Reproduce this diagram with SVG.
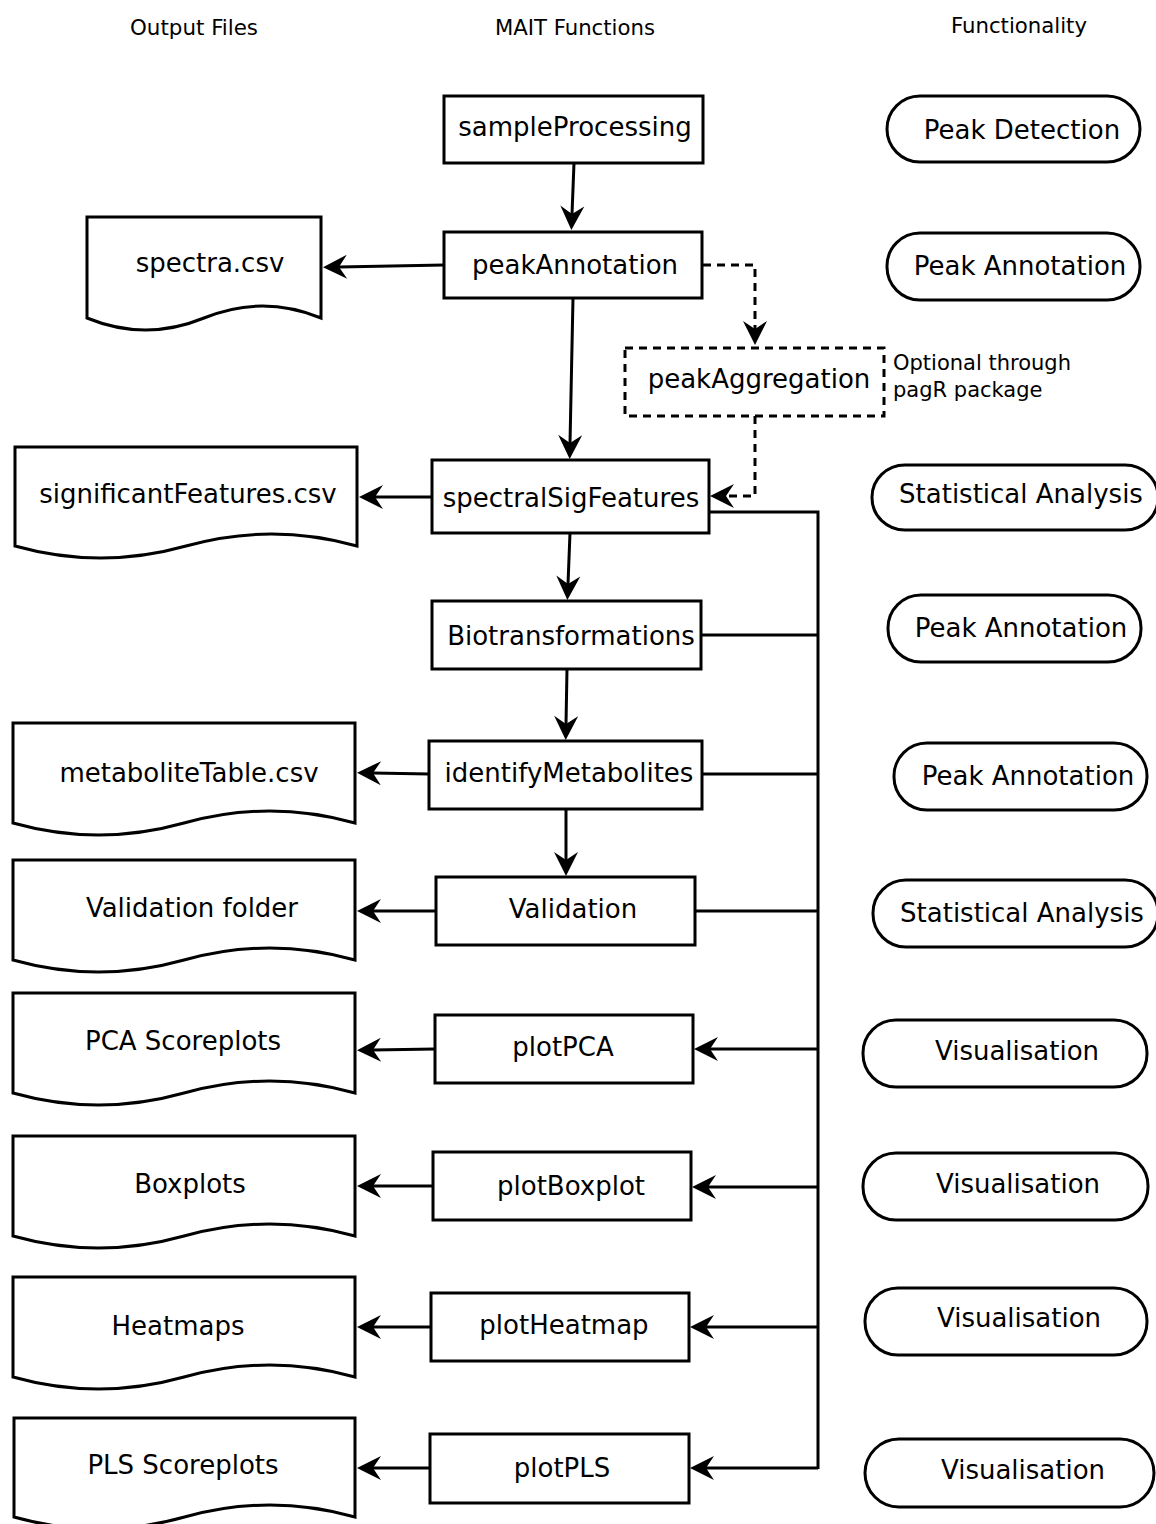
<svg xmlns="http://www.w3.org/2000/svg" width="1156" height="1524" viewBox="0 0 1156 1524">
<style>
.box{fill:#fff;stroke:#000;stroke-width:3}
.dash{fill:#fff;stroke:#000;stroke-width:3;stroke-dasharray:8 6}
.doc{fill:#fff;stroke:#000;stroke-width:3;stroke-linejoin:miter}
.pill{fill:#fff;stroke:#000;stroke-width:3}
.lbl{font-family:"DejaVu Sans","Liberation Sans",sans-serif;font-size:26px;fill:#000;text-anchor:middle}
.note{font-family:"DejaVu Sans","Liberation Sans",sans-serif;font-size:21px;fill:#000}
.hdr{font-family:"DejaVu Sans Condensed","DejaVu Sans","Liberation Sans",sans-serif;font-stretch:condensed;font-size:22px;fill:#000}
.ln{fill:none;stroke:#000;stroke-width:3}
.ln.dsh{stroke-dasharray:8 6}
.arr{marker-end:url(#ah)}
</style>
<defs>
<marker id="ah" markerUnits="userSpaceOnUse" markerWidth="40" markerHeight="40" refX="0" refY="0" orient="auto" overflow="visible">
<path d="M16,0 L-8,-12 L0,0 L-8,12 Z" fill="#000"/>
</marker>
</defs>
<rect width="1156" height="1524" fill="#fff"/>

<g id="headers">
<text class="hdr" x="130" y="35" textLength="128" lengthAdjust="spacingAndGlyphs">Output Files</text>
<text class="hdr" x="495" y="35" textLength="160" lengthAdjust="spacingAndGlyphs">MAIT Functions</text>
<text class="hdr" x="951" y="33" textLength="136" lengthAdjust="spacingAndGlyphs">Functionality</text>
</g>

<g id="connectors">
<path class="ln arr" d="M574,163 L572,214"/>
<path class="ln arr" d="M444,265 L339,267"/>
<path class="ln arr" d="M573,298 L570,443"/>
<path class="ln dsh arr" d="M703,265 H755 V329"/>
<path class="ln dsh arr" d="M755,416 V496 H726"/>
<path class="ln arr" d="M432,497 L375,497"/>
<path class="ln arr" d="M570,533 L568,584"/>
<path class="ln arr" d="M567,669 L566,724"/>
<path class="ln arr" d="M429,774 L373,773"/>
<path class="ln arr" d="M566,809 V860"/>
<path class="ln arr" d="M436,911 H373"/>
<path class="ln arr" d="M435,1049 L373,1050"/>
<path class="ln arr" d="M433,1186 H373"/>
<path class="ln arr" d="M431,1327 H373"/>
<path class="ln arr" d="M430,1468 H373"/>
<path class="ln" d="M709,512 H818 V1469"/>
<path class="ln" d="M701,635 H818"/>
<path class="ln" d="M702,774 H818"/>
<path class="ln" d="M695,911 H818"/>
<path class="ln arr" d="M818,1049 H710"/>
<path class="ln arr" d="M818,1187 H708"/>
<path class="ln arr" d="M818,1327 H706"/>
<path class="ln arr" d="M818,1468 H706"/>
</g>

<g id="n-sampleProcessing"><rect class="box" x="444" y="96" width="259" height="67"/><text class="lbl" x="575" y="136">sampleProcessing</text></g>
<g id="n-peakAnnotation"><rect class="box" x="444" y="232" width="258" height="66"/><text class="lbl" x="575" y="274">peakAnnotation</text></g>
<g id="n-peakAggregation"><rect class="dash" x="625" y="348" width="259" height="68"/><text class="lbl" x="759" y="388">peakAggregation</text>
<text class="note" x="893" y="370">Optional through</text><text class="note" x="893" y="397">pagR package</text></g>
<g id="n-spectralSigFeatures"><rect class="box" x="432" y="460" width="277" height="73"/><text class="lbl" x="571" y="507">spectralSigFeatures</text></g>
<g id="n-Biotransformations"><rect class="box" x="432" y="601" width="269" height="68"/><text class="lbl" x="571" y="645">Biotransformations</text></g>
<g id="n-identifyMetabolites"><rect class="box" x="429" y="741" width="273" height="68"/><text class="lbl" x="569" y="782">identifyMetabolites</text></g>
<g id="n-Validation"><rect class="box" x="436" y="877" width="259" height="68"/><text class="lbl" x="573" y="918">Validation</text></g>
<g id="n-plotPCA"><rect class="box" x="435" y="1015" width="258" height="68"/><text class="lbl" x="563" y="1056">plotPCA</text></g>
<g id="n-plotBoxplot"><rect class="box" x="433" y="1152" width="258" height="68"/><text class="lbl" x="571" y="1195">plotBoxplot</text></g>
<g id="n-plotHeatmap"><rect class="box" x="431" y="1293" width="258" height="68"/><text class="lbl" x="564" y="1334">plotHeatmap</text></g>
<g id="n-plotPLS"><rect class="box" x="430" y="1434" width="259" height="69"/><text class="lbl" x="562" y="1477">plotPLS</text></g>

<g id="d-spectra"><path class="doc" d="M87,217 H321 V318 Q262.5,294 204,318 Q145.5,342 87,318 Z"/><text class="lbl" x="210" y="272">spectra.csv</text></g>
<g id="d-significantFeatures"><path class="doc" d="M15,447 H357 V546 Q271.5,522 186,546 Q100.5,570 15,546 Z"/><text class="lbl" x="188" y="503">significantFeatures.csv</text></g>
<g id="d-metaboliteTable"><path class="doc" d="M13,723 H355 V823 Q269.5,799 184,823 Q98.5,847 13,823 Z"/><text class="lbl" x="189" y="782">metaboliteTable.csv</text></g>
<g id="d-validationFolder"><path class="doc" d="M13,860 H355 V960 Q269.5,936 184,960 Q98.5,984 13,960 Z"/><text class="lbl" x="192" y="917">Validation folder</text></g>
<g id="d-pca"><path class="doc" d="M13,993 H355 V1093 Q269.5,1069 184,1093 Q98.5,1117 13,1093 Z"/><text class="lbl" x="183" y="1050">PCA Scoreplots</text></g>
<g id="d-boxplots"><path class="doc" d="M13,1136 H355 V1236 Q269.5,1212 184,1236 Q98.5,1260 13,1236 Z"/><text class="lbl" x="190" y="1193">Boxplots</text></g>
<g id="d-heatmaps"><path class="doc" d="M13,1277 H355 V1377 Q269.5,1353 184,1377 Q98.5,1401 13,1377 Z"/><text class="lbl" x="178" y="1335">Heatmaps</text></g>
<g id="d-pls"><path class="doc" d="M14,1418 H355 V1517 Q269.75,1493 184.5,1517 Q99.25,1541 14,1517 Z"/><text class="lbl" x="183" y="1474">PLS Scoreplots</text></g>

<g id="f-peakDetection"><rect class="pill" x="887" y="96" width="253" height="66" rx="33" ry="33"/><text class="lbl" x="1022" y="139">Peak Detection</text></g>
<g id="f-peakAnnotation1"><rect class="pill" x="887" y="233" width="253" height="67" rx="33" ry="33"/><text class="lbl" x="1020" y="275">Peak Annotation</text></g>
<g id="f-stat1"><rect class="pill" x="872" y="465" width="286" height="65" rx="33" ry="32"/><text class="lbl" x="1021" y="503">Statistical Analysis</text></g>
<g id="f-peakAnnotation2"><rect class="pill" x="888" y="595" width="253" height="67" rx="33" ry="33"/><text class="lbl" x="1021" y="637">Peak Annotation</text></g>
<g id="f-peakAnnotation3"><rect class="pill" x="894" y="743" width="253" height="67" rx="33" ry="33"/><text class="lbl" x="1028" y="785">Peak Annotation</text></g>
<g id="f-stat2"><rect class="pill" x="873" y="880" width="285" height="67" rx="33" ry="33"/><text class="lbl" x="1022" y="922">Statistical Analysis</text></g>
<g id="f-vis1"><rect class="pill" x="863" y="1020" width="284" height="67" rx="33" ry="33"/><text class="lbl" x="1017" y="1060">Visualisation</text></g>
<g id="f-vis2"><rect class="pill" x="863" y="1153" width="285" height="67" rx="33" ry="33"/><text class="lbl" x="1018" y="1193">Visualisation</text></g>
<g id="f-vis3"><rect class="pill" x="865" y="1288" width="282" height="67" rx="33" ry="33"/><text class="lbl" x="1019" y="1327">Visualisation</text></g>
<g id="f-vis4"><rect class="pill" x="865" y="1439" width="289" height="68" rx="34" ry="34"/><text class="lbl" x="1023" y="1479">Visualisation</text></g>
</svg>
